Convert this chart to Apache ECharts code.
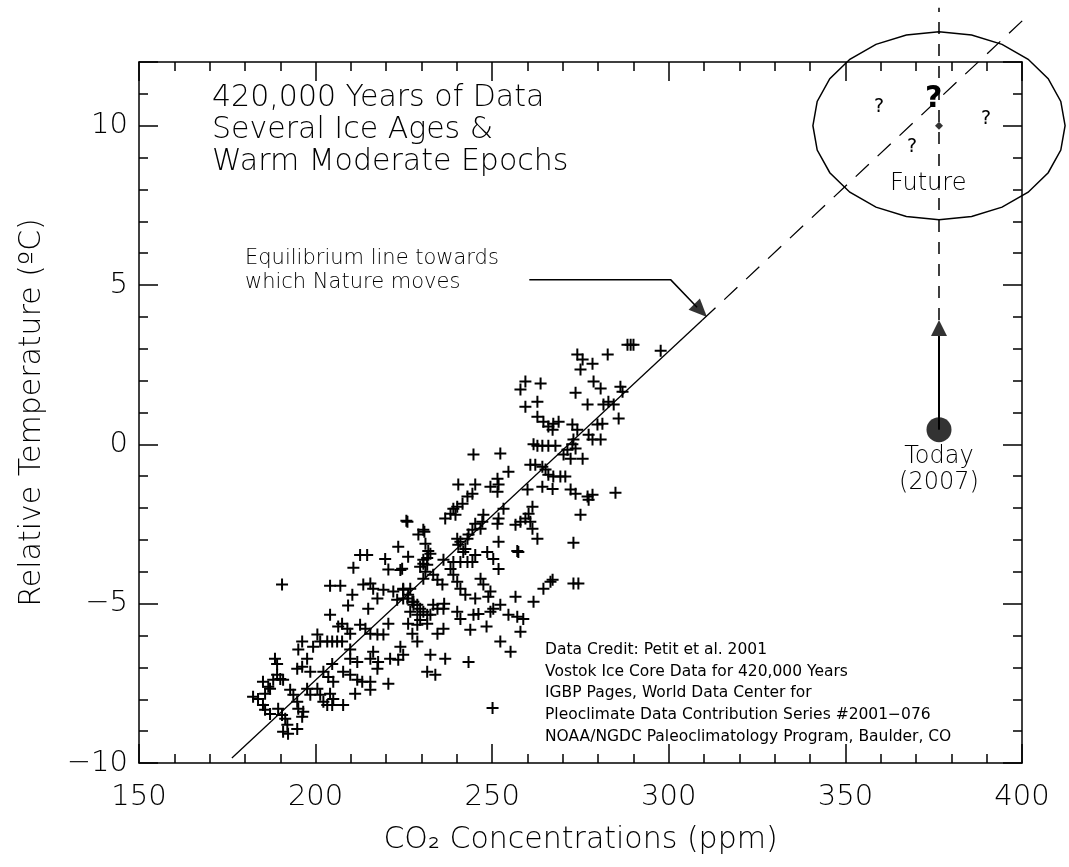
<!DOCTYPE html>
<html>
<head>
<meta charset="utf-8">
<title>CO2 vs Relative Temperature</title>
<script src="https://cdn.jsdelivr.net/npm/echarts@6/dist/echarts.min.js"></script>
<style>
  html, body { margin: 0; padding: 0; background: #fff; }
  #chart { width: 1069px; height: 867px; }
</style>
</head>
<body>
<div id="chart"></div>
<script>
// Vostok ice core, CO2 (ppm) against relative temperature (°C)
const co2 = [
  225.7, 236.7, 230.5, 229.1, 223.4, 231.1, 212.6, 214.6, 219.7, 210.7, 220.6, 224.5, 226.2, 230.5, 231.6, 232.5, 236.2,
  190.5, 204.1, 207.0, 213.5, 215.5, 216.3, 219.2, 222.0, 224.8, 226.8, 210.4, 217.5, 223.1, 226.0, 227.7, 228.8, 229.6,
  230.5, 231.6, 233.3, 234.5, 236.2, 209.2, 214.9, 204.1, 220.6, 207.5, 206.4, 209.0, 209.8, 212.6, 214.1, 215.5, 217.5,
  219.2, 226.2, 228.8, 231.6, 234.5, 236.2, 227.4, 228.8, 196.2, 195.1, 200.5, 199.3, 201.3, 203.3, 204.7, 206.1, 207.5,
  209.8, 209.8, 211.8, 215.5, 216.3, 221.1, 223.4, 224.8, 224.0, 232.5, 236.7, 231.6, 233.9, 188.5, 189.1, 197.6, 196.2,
  194.8, 198.5, 202.2, 204.7, 203.6, 205.0, 207.8, 209.8, 211.8, 213.2, 215.5, 217.5, 217.7, 220.6, 215.5, 211.2, 185.1,
  186.6, 188.0, 189.1, 190.0, 190.8, 187.1, 185.7, 182.3, 183.7, 185.1, 185.7, 187.1, 192.8, 193.7, 194.8, 195.1, 196.5,
  196.2, 197.6, 198.5, 200.5, 201.3, 202.2, 203.3, 204.1, 205.0, 204.7, 207.8, 190.5, 191.4, 192.0, 190.8, 192.2, 194.8,
  189.4, 288.3, 289.2, 290.0, 282.7, 274.1, 275.6, 275.0, 278.4, 278.7, 280.7, 286.3, 286.9, 273.6, 277.0, 281.5, 282.9,
  284.4, 285.8, 259.4, 258.0, 263.7, 259.4, 262.8, 262.8, 264.5, 265.9, 267.1, 267.3, 268.8, 272.7, 274.1, 273.0, 272.7,
  273.6, 277.3, 278.4, 280.7, 279.8, 281.2, 261.7, 262.8, 264.2, 265.9, 267.9, 270.2, 271.3, 272.2, 275.6, 260.8, 262.2,
  264.2, 265.1, 265.9, 267.3, 269.3, 270.7, 264.2, 267.1, 272.2, 273.6, 277.0, 278.4, 277.3, 284.9, 275.0, 273.0, 266.5,
  264.5, 273.0, 274.4, 244.7, 252.3, 254.6, 251.5, 251.8, 249.5, 251.5, 240.4, 245.2, 244.4, 243.0, 241.6, 240.1, 239.0,
  238.2, 239.6, 260.0, 261.4, 260.3, 259.4, 258.0, 256.6, 260.8, 261.4, 262.8, 253.2, 251.8, 251.5, 247.5, 247.2, 246.7,
  245.2, 244.4, 243.3, 243.0, 240.1, 241.0, 242.4, 241.8, 240.4, 251.8, 257.1, 257.4, 248.6, 250.3, 251.8, 245.2, 244.4,
  243.0, 241.0, 239.0, 226.0, 230.8, 231.9, 231.6, 230.5, 229.6, 231.1, 230.5, 238.2, 239.0, 240.1, 241.0, 242.4, 245.2,
  248.9, 249.5, 247.5, 246.7, 233.3, 234.5, 235.9, 252.3, 250.3, 254.6, 256.6, 261.7, 257.1, 258.8, 246.1, 244.7, 240.1,
  241.0, 236.4, 232.5, 227.7, 226.8, 228.8, 229.6, 224.0, 224.8, 226.2, 227.4, 224.8, 267.1, 249.5, 297.7, 243.8, 248.4,
  252.3, 255.2, 258.0, 243.3, 250.1
];
const temp = [
  -2.40, -2.33, -2.68, -2.83, -3.21, -3.12, -3.47, -3.47, -3.60, -3.87, -3.93, -3.90, -3.53, -3.62, -3.78, -3.43, -3.62,
  -4.40, -4.44, -4.44, -4.40, -4.37, -4.53, -4.56, -4.62, -4.56, -4.53, -4.72, -4.84, -4.88, -4.84, -4.94, -5.03, -5.16,
  -5.25, -5.35, -5.03, -5.16, -5.16, -5.06, -5.16, -5.35, -5.63, -5.63, -5.72, -5.79, -5.94, -5.66, -5.79, -5.94, -5.97,
  -5.97, -5.63, -5.66, -5.63, -5.94, -5.79, -5.94, -6.19, -6.19, -6.44, -5.97, -6.35, -6.19, -6.19, -6.19, -6.19, -6.19,
  -6.44, -6.73, -6.83, -6.73, -6.51, -6.73, -6.76, -6.60, -6.35, -6.60, -6.73, -7.14, -7.23, -6.73, -6.89, -6.73, -6.98,
  -7.04, -7.14, -7.14, -6.89, -7.30, -7.45, -7.14, -7.23, -7.39, -7.45, -7.45, -7.04, -6.83, -7.51, -7.70, -7.83, -7.45,
  -7.61, -7.39, -7.23, -7.36, -7.39, -7.67, -7.83, -7.92, -7.99, -8.18, -8.33, -8.46, -7.70, -7.86, -8.08, -8.30, -8.39,
  -8.55, -7.67, -7.86, -7.67, -7.86, -8.08, -8.18, -7.83, -7.99, -8.18, -8.18, -8.49, -8.61, -8.80, -9.02, -9.08, -8.93,
  -8.30, 3.13, 3.13, 3.13, 2.82, 2.82, 2.66, 2.35, 2.53, 1.97, 1.75, 1.81, 1.65, 1.62, 1.25, 1.25, 1.34,
  1.25, 0.81, 1.97, 1.72, 1.91, 1.18, 1.34, 0.87, 0.71, 0.56, 0.46, 0.65, 0.71, 0.62, 0.46, 0.15, 0.00,
  -0.13, 0.30, 0.15, 0.15, 0.62, 0.65, 0.00, -0.04, -0.04, -0.04, -0.04, -0.32, -0.17, -0.45, -0.45, -0.64, -0.64,
  -0.70, -0.79, -0.95, -1.01, -1.01, -1.01, -1.33, -1.40, -1.42, -1.55, -1.64, -1.58, -1.74, -1.52, -2.21, -3.09, -4.31,
  -4.53, -4.37, -4.37, -0.32, -0.29, -0.86, -1.08, -1.26, -1.33, -1.49, -1.26, -1.26, -1.55, -1.64, -1.86, -1.96, -2.02,
  -2.18, -2.21, -1.42, -1.96, -2.18, -2.33, -2.43, -2.52, -2.43, -2.65, -2.96, -2.02, -2.33, -2.49, -2.21, -2.43, -2.65,
  -2.49, -2.68, -2.83, -2.96, -2.96, -3.06, -3.28, -3.38, -3.15, -3.06, -3.35, -3.38, -3.38, -3.60, -3.91, -3.47, -3.69,
  -3.69, -3.69, -3.69, -2.43, -2.74, -3.35, -3.57, -3.75, -3.84, -4.00, -4.22, -3.91, -4.09, -4.31, -4.53, -4.72, -4.84,
  -4.78, -4.62, -4.40, -4.22, -4.09, -4.25, -4.40, -5.03, -5.16, -5.35, -4.78, -4.94, -5.41, -5.48, -5.32, -5.35, -5.25,
  -5.48, -5.00, -5.35, -5.03, -5.25, -5.35, -5.51, -3.94, -4.53, -4.72, -4.94, -4.84, -4.25, -5.25, 2.94, -5.82, -5.72,
  -6.19, -6.51, -5.88, -6.83, -8.27
];

// axis ranges
const xRange = [150, 400];
const yRange = [-10, 12];

// equilibrium line: solid part, then dashed extension past the frame
const eqSolid = [[176.3, -9.84], [309.5, 3.9]];
const eqDashed = [[309.5, 3.9], [404, 13.7]];

// pointer from the "Equilibrium line" note to the line
const pointer = [[260.5, 5.17], [300.5, 5.17], [308, 4.3]];

// today and the path to the future
const today = [376.5, 0.46];
const todayShaft = [[376.5, 0.46], [376.5, 3.4]];
const futureDash = [[376.5, 3.9], [376.5, 13.7]];
const futureMark = [376.5, 10];
// ellipse: centre x, centre y, radius x (ppm), radius y (°C)
const futureCloud = [376.5, 10, 35.7, 2.95];

const FONT = "'DejaVu Sans', sans-serif";
const W = 200;

const chart = echarts.init(document.getElementById('chart'));

const plusPath = 'path://M0,6L12,6M6,0L6,12';

const baseAxis = {
  type: 'value',
  axisLine: { show: true, onZero: false, lineStyle: { color: '#000', width: 1.5 } },
  axisTick: { show: true, inside: true, length: 19, lineStyle: { color: '#000', width: 1.5 } },
  minorTick: { show: true, splitNumber: 5, length: 9, lineStyle: { color: '#000', width: 1.5 } },
  splitLine: { show: false },
  minorSplitLine: { show: false }
};

const option = {
  animation: false,
  backgroundColor: '#fff',
  grid: { left: 139, right: 47, top: 62, bottom: 104, containLabel: false, outerBoundsMode: 'none' },
  xAxis: [
    Object.assign({}, baseAxis, {
      min: xRange[0], max: xRange[1], interval: 50,
      axisLabel: { color: '#000', fontSize: 29, fontFamily: FONT, fontWeight: W, margin: 20 },
      name: 'CO\u2082 Concentrations (ppm)',
      nameLocation: 'middle',
      nameGap: 62,
      nameTextStyle: { color: '#000', fontSize: 30, fontFamily: FONT, fontWeight: W }
    }),
    Object.assign({}, baseAxis, {
      position: 'top',
      min: xRange[0], max: xRange[1], interval: 50,
      axisLabel: { show: false }
    })
  ],
  yAxis: [
    Object.assign({}, baseAxis, {
      min: yRange[0], max: yRange[1], interval: 5,
      axisLabel: {
        color: '#000', fontSize: 29, fontFamily: FONT, fontWeight: W, margin: 11,
        showMaxLabel: false,
        formatter: v => (v < 0 ? '\u2212' + Math.abs(v) : String(v))
      },
      name: 'Relative Temperature (\u00baC)',
      nameLocation: 'middle',
      nameGap: 92,
      nameTextStyle: { color: '#000', fontSize: 30, fontFamily: FONT, fontWeight: W }
    }),
    Object.assign({}, baseAxis, {
      position: 'right',
      min: yRange[0], max: yRange[1], interval: 5,
      axisLabel: { show: false }
    })
  ],
  series: [
    {
      name: 'Vostok',
      type: 'scatter',
      silent: true,
      data: co2.map((c, i) => [c, temp[i]]),
      symbol: plusPath,
      symbolSize: 12,
      itemStyle: { color: 'transparent', borderColor: '#000', borderWidth: 2, opacity: 1 },
      z: 3
    },
    {
      name: 'Equilibrium',
      type: 'line',
      silent: true,
      data: eqSolid,
      symbol: 'none',
      lineStyle: { color: '#000', width: 1.3 },
      z: 4
    },
    {
      name: 'Equilibrium extension',
      type: 'line',
      silent: true,
      clip: false,
      data: eqDashed,
      symbol: 'none',
      lineStyle: { color: '#000', width: 1.3, type: [18, 12] }
    },
    {
      name: 'Pointer',
      type: 'line',
      silent: true,
      data: pointer,
      symbol: 'none',
      lineStyle: { color: '#000', width: 1.5 }
    },
    {
      name: 'Future path',
      type: 'line',
      silent: true,
      clip: false,
      data: futureDash,
      symbol: 'none',
      lineStyle: { color: '#000', width: 1.5, type: [12, 10] }
    },
    {
      name: 'Today shaft',
      type: 'line',
      silent: true,
      data: todayShaft,
      symbol: 'none',
      lineStyle: { color: '#000', width: 2 }
    },
    {
      name: 'Arrow heads',
      type: 'scatter',
      silent: true,
      symbol: 'triangle',
      itemStyle: { color: '#000' },
      data: [
        { value: [376.5, 3.65], symbolSize: [16, 16], symbolRotate: 0 },
        { value: [pointer[2][0] + 1, pointer[2][1] - 0.1], symbolSize: [16, 18], symbolRotate: -135 }
      ]
    },
    {
      name: 'Today',
      type: 'scatter',
      silent: true,
      data: [today],
      symbol: 'circle',
      symbolSize: 25,
      itemStyle: { color: '#000' },
      label: {
        show: true,
        position: 'bottom',
        distance: 2,
        formatter: 'Today\n(2007)',
        color: '#000',
        opacity: 1,
        textBorderWidth: 0,
        fontSize: 24,
        lineHeight: 26,
        fontFamily: FONT,
        fontWeight: W
      }
    },
    {
      name: 'Future mark',
      type: 'scatter',
      silent: true,
      data: [futureMark],
      symbol: 'diamond',
      symbolSize: 8,
      itemStyle: { color: '#000' }
    },
    {
      name: 'Future',
      type: 'custom',
      silent: true,
      clip: false,
      data: [futureCloud],
      renderItem: function (params, api) {
        const c = api.coord([api.value(0), api.value(1)]);
        const s = api.size([api.value(2), api.value(3)]);
        const pts = [];
        const n = 24;
        for (let i = 0; i < n; i++) {
          const a = (i / n) * Math.PI * 2;
          pts.push([c[0] + s[0] * Math.cos(a), c[1] + s[1] * Math.sin(a)]);
        }
        return {
          type: 'polygon',
          shape: { points: pts },
          style: { fill: 'none', stroke: '#000', lineWidth: 1.5 }
        };
      }
    }
  ],
  graphic: [
    {
      type: 'text', left: 212, top: 82,
      style: {
        text: '420,000 Years of Data\nSeveral Ice Ages &\nWarm Moderate Epochs',
        font: W + ' 30px ' + FONT, lineHeight: 32, fill: '#000'
      }
    },
    {
      type: 'text', left: 245, top: 247,
      style: {
        text: 'Equilibrium line towards\nwhich Nature moves',
        font: W + ' 21px ' + FONT, lineHeight: 24, fill: '#000'
      }
    },
    {
      type: 'text', left: 545, top: 639,
      style: {
        text: 'Data Credit: Petit et al. 2001\nVostok Ice Core Data for 420,000 Years\nIGBP Pages, World Data Center for\nPleoclimate Data Contribution Series #2001\u2212076\nNOAA/NGDC Paleoclimatology Program, Baulder, CO',
        font: '15.5px ' + FONT, lineHeight: 21.7, fill: '#000'
      }
    },
    {
      type: 'text', left: 890, top: 172,
      style: { text: 'Future', font: W + ' 24px ' + FONT, fill: '#000' }
    },
    { type: 'text', left: 874, top: 98, style: { text: '?', font: '19px ' + FONT, fill: '#000' } },
    { type: 'text', left: 981, top: 110, style: { text: '?', font: '19px ' + FONT, fill: '#000' } },
    { type: 'text', left: 907, top: 138, style: { text: '?', font: '19px ' + FONT, fill: '#000' } },
    { type: 'text', left: 925, top: 84, style: { text: '?', font: 'bold 30px ' + FONT, fill: '#000' } }
  ]
};

chart.setOption(option);
</script>
</body>
</html>
